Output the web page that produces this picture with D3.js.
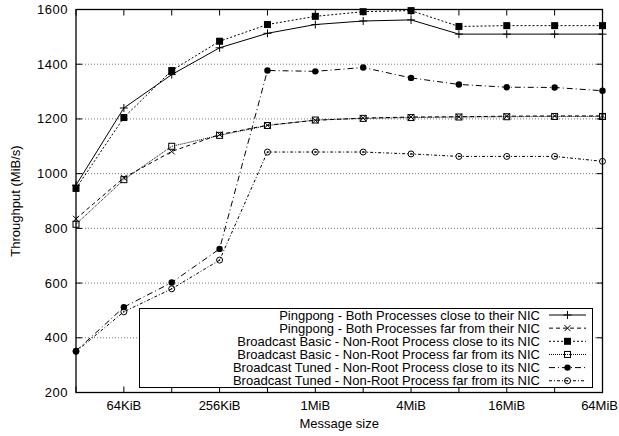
<!DOCTYPE html>
<html><head><meta charset="utf-8">
<script src="https://cdn.jsdelivr.net/npm/d3@7"></script>
<style>body{margin:0;background:#fff}svg{display:block}text{font-family:"Liberation Sans",Arial,sans-serif;fill:#000}</style>
</head><body><svg id="c" width="619" height="436"></svg>
<script>
const sizes = [15,16,17,18,19,20,21,22,23,24,25,26]; // log2 bytes
const xTickLabels = ["64KiB","256KiB","1MiB","4MiB","16MiB","64MiB"];
const xTickExps = [16,18,20,22,24,26];
const yTicks = [200,400,600,800,1000,1200,1400,1600];
const pingClose = [958,1240,1362,1460,1513,1545,1558,1562,1510,1510,1510,1510];
const pingFar = [835,985,1081,1143,1177,1195,1203,1207,1208,1210,1211,1211];
const basicClose = [946,1205,1377,1484,1545,1575,1592,1596,1538,1541,1541,1541];
const basicFar = [815,978,1100,1140,1176,1196,1202,1205,1207,1208,1209,1209];
const tunedClose = [352,512,602,725,1377,1374,1388,1350,1326,1316,1315,1303];
const tunedFar = [350,495,579,684,1079,1079,1079,1072,1063,1063,1063,1045];
const labels = [
 "Pingpong - Both Processes close to their NIC",
 "Pingpong - Both Processes far from their NIC",
 "Broadcast Basic - Non-Root Process close to its NIC",
 "Broadcast Basic - Non-Root Process far from its NIC",
 "Broadcast Tuned - Non-Root Process close to its NIC",
 "Broadcast Tuned - Non-Root Process far from its NIC"];

const series = [
 {v:pingClose, dash:null, m:"plus"},
 {v:pingFar, dash:"4,3", m:"cross"},
 {v:basicClose, dash:"2,2", m:"fsq"},
 {v:basicFar, dash:"1,1", m:"osq"},
 {v:tunedClose, dash:"6,3,1,3", m:"fci"},
 {v:tunedFar, dash:"3,2,1,2", m:"oci"}];

const L=76, R=602.5, T=9.5, B=392.5, FS=13;
const svg = d3.select("#c");
const x = d3.scaleLinear().domain([15,26]).range([L,R]);
const y = d3.scaleLinear().domain([200,1600]).range([B,T]);

// grid
svg.append("g").selectAll("line").data(yTicks.filter(d=>d>200&&d<1600)).join("line")
 .attr("x1",L).attr("x2",R).attr("y1",d=>y(d)).attr("y2",d=>y(d))
 .attr("stroke","#777").attr("stroke-width",1).attr("stroke-dasharray","1,2");

// axes ticks
const tg = svg.append("g").attr("stroke","#000").attr("stroke-width",1);
sizes.forEach(s=>{
  tg.append("line").attr("x1",x(s)).attr("x2",x(s)).attr("y1",B).attr("y2",B-6);
  tg.append("line").attr("x1",x(s)).attr("x2",x(s)).attr("y1",T).attr("y2",T+6);
});
yTicks.forEach(v=>{
  tg.append("line").attr("x1",L).attr("x2",L+6).attr("y1",y(v)).attr("y2",y(v));
  tg.append("line").attr("x1",R).attr("x2",R-6).attr("y1",y(v)).attr("y2",y(v));
});
svg.append("rect").attr("x",L).attr("y",T).attr("width",R-L).attr("height",B-T)
 .attr("fill","none").attr("stroke","#000").attr("stroke-width",1.3);

// labels
svg.append("g").selectAll("text").data(yTicks).join("text")
 .attr("x",68).attr("y",d=>y(d)+4.5).attr("text-anchor","end").attr("font-size",FS)
 .attr("letter-spacing",0.5).text(d=>d);
svg.append("g").selectAll("text").data(xTickExps).join("text")
 .attr("x",(d,i)=>i===xTickExps.length-1 ? 618 : x(d)).attr("y",409.5)
 .attr("text-anchor",(d,i)=>i===xTickExps.length-1 ? "end" : "middle").attr("font-size",FS)
 .text((d,i)=>xTickLabels[i]);
svg.append("text").attr("x",(L+R)/2).attr("y",427.5).attr("text-anchor","middle").attr("font-size",FS).text("Message size");
svg.append("text").attr("transform",`translate(20,${(T+B)/2}) rotate(-90)`).attr("text-anchor","middle").attr("font-size",FS).text("Throughput (MiB/s)");

function marker(g, type, cx, cy){
  const k="#000";
  if(type==="plus"){
    g.append("path").attr("d",`M${cx-4},${cy}H${cx+4}M${cx},${cy-4}V${cy+4}`).attr("stroke",k).attr("fill","none");
  } else if(type==="cross"){
    g.append("path").attr("d",`M${cx-3},${cy-3}L${cx+3},${cy+3}M${cx-3},${cy+3}L${cx+3},${cy-3}`).attr("stroke",k).attr("fill","none");
  } else if(type==="fsq"){
    g.append("rect").attr("x",cx-3.5).attr("y",cy-3.5).attr("width",7).attr("height",7).attr("fill",k);
  } else if(type==="osq"){
    g.append("rect").attr("x",cx-3).attr("y",cy-3).attr("width",6).attr("height",6).attr("fill","none").attr("stroke",k);
  } else if(type==="fci"){
    g.append("circle").attr("cx",cx).attr("cy",cy).attr("r",3.2).attr("fill",k);
  } else if(type==="oci"){
    g.append("circle").attr("cx",cx).attr("cy",cy).attr("r",3).attr("fill","none").attr("stroke",k);
    g.append("circle").attr("cx",cx).attr("cy",cy).attr("r",0.8).attr("fill",k);
  }
}

const line = d3.line().x((d,i)=>x(sizes[i])).y(d=>y(d));
series.forEach(s=>{
  const g = svg.append("g");
  g.append("path").attr("d",line(s.v)).attr("fill","none").attr("stroke","#000").attr("stroke-width",1)
   .attr("stroke-dasharray",s.dash);
  s.v.forEach((v,i)=>marker(g,s.m,x(sizes[i]),y(v)));
});

// legend
const lg = svg.append("g");
lg.append("rect").attr("x",139.5).attr("y",308.5).attr("width",453).attr("height",79)
  .attr("fill","#fff").attr("stroke","#000").attr("stroke-width",1);
labels.forEach((t,i)=>{
  const yy = 315 + i*13.15;
  lg.append("text").attr("x",540).attr("y",yy+4.5).attr("text-anchor","end").attr("font-size",FS).text(t);
  lg.append("line").attr("x1",549).attr("x2",586).attr("y1",yy).attr("y2",yy)
    .attr("stroke","#000").attr("stroke-dasharray",series[i].dash);
  marker(lg,series[i].m,567.5,yy);
});
</script></body></html>
